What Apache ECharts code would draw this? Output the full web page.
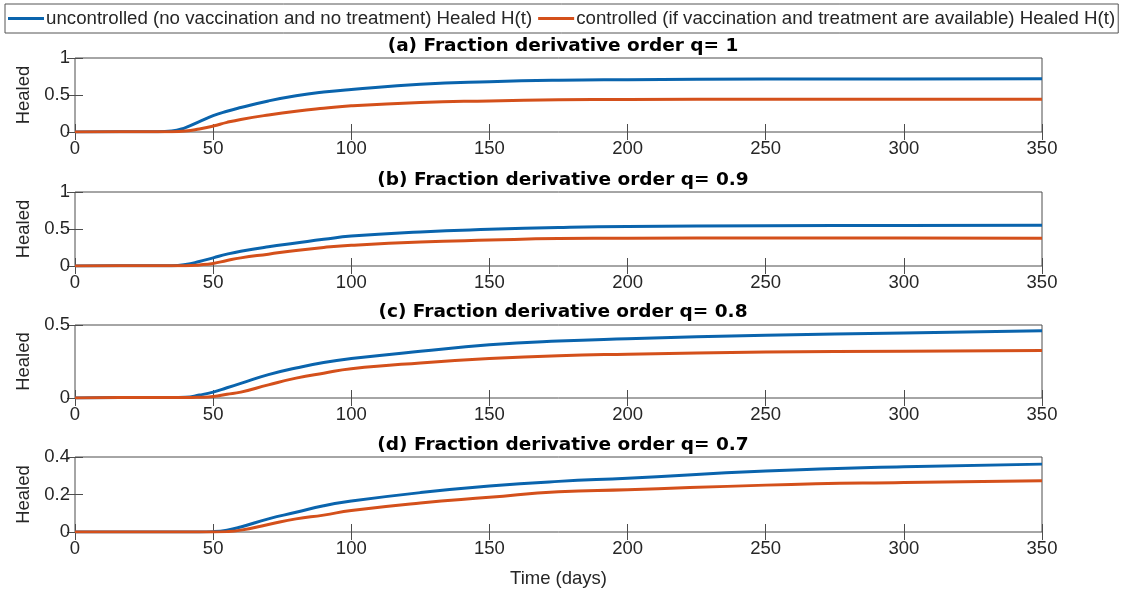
<!DOCTYPE html>
<html>
<head>
<meta charset="utf-8">
<script src="https://cdn.jsdelivr.net/npm/echarts@6/dist/echarts.min.js"></script>
<style>
  html, body { margin: 0; padding: 0; background: #fff; }
  #chart { width: 1128px; height: 591px; }
</style>
</head>
<body>
<div id="chart"></div>
<script>
// Sample days shared by all panels
const days = [0, 16, 30, 35, 40, 45, 50, 55, 60, 70, 80, 90, 100, 125, 150, 175, 200, 250, 300, 350];

// (a) q = 1
const uncontrolledA = [0, 0.005, 0.005, 0.012, 0.06, 0.14, 0.22, 0.28, 0.33, 0.42, 0.49, 0.54, 0.575, 0.645, 0.68, 0.70, 0.707, 0.715, 0.717, 0.72];
const controlledA   = [0, 0.005, 0.005, 0.005, 0.012, 0.04, 0.08, 0.13, 0.17, 0.23, 0.28, 0.32, 0.355, 0.40, 0.42, 0.435, 0.44, 0.442, 0.443, 0.443];
// (b) q = 0.9
const uncontrolledB = [0, 0.005, 0.005, 0.005, 0.02, 0.06, 0.11, 0.16, 0.20, 0.26, 0.31, 0.36, 0.405, 0.46, 0.495, 0.52, 0.535, 0.545, 0.548, 0.55];
const controlledB   = [0, 0.005, 0.005, 0.005, 0.005, 0.015, 0.035, 0.075, 0.11, 0.16, 0.21, 0.25, 0.28, 0.325, 0.35, 0.37, 0.375, 0.38, 0.378, 0.375];
// (c) q = 0.8
const uncontrolledC = [0, 0.003, 0.003, 0.003, 0.005, 0.02, 0.04, 0.07, 0.10, 0.16, 0.205, 0.243, 0.27, 0.32, 0.364, 0.39, 0.405, 0.43, 0.445, 0.46];
const controlledC   = [0, 0.003, 0.003, 0.003, 0.003, 0.005, 0.01, 0.025, 0.04, 0.09, 0.136, 0.17, 0.20, 0.24, 0.27, 0.29, 0.30, 0.315, 0.32, 0.325];
// (d) q = 0.7
const uncontrolledD = [0, 0, 0, 0, 0, 0, 0.002, 0.01, 0.027, 0.07, 0.105, 0.14, 0.165, 0.21, 0.245, 0.27, 0.287, 0.325, 0.348, 0.362];
const controlledD   = [0, 0, 0, 0, 0, 0, 0, 0.002, 0.01, 0.04, 0.07, 0.09, 0.115, 0.155, 0.185, 0.215, 0.225, 0.25, 0.264, 0.273];

const panelTitles = [
  '(a) Fraction derivative order q= 1',
  '(b) Fraction derivative order q= 0.9',
  '(c) Fraction derivative order q= 0.8',
  '(d) Fraction derivative order q= 0.7'
];
const yMax = [1, 1, 0.5, 0.4];
const yStep = [0.5, 0.5, 0.5, 0.2];
const seriesNames = [
  'uncontrolled (no vaccination and no treatment) Healed H(t)',
  'controlled (if vaccination and treatment are available) Healed H(t)'
];
const panelData = [
  [uncontrolledA, controlledA],
  [uncontrolledB, controlledB],
  [uncontrolledC, controlledC],
  [uncontrolledD, controlledD]
];

const FONT = '"Liberation Sans", Arial, sans-serif';
const TITLE_FONT = '"DejaVu Sans", "Liberation Sans", sans-serif';
const INK = '#262626';
const BOX = '#4d4d4d';
const COLORS = ['#0a64ad', '#d4501b'];

const gridTops = [58, 192, 325, 457];
const gridHeights = [74, 74, 73, 75];
const titleTops = [32, 166, 298, 431];

const grids = [], xAxes = [], yAxes = [], series = [], titles = [];

panelData.forEach((pair, i) => {
  grids.push({ left: 75, right: 86, top: gridTops[i], height: gridHeights[i], show: true, borderColor: BOX, borderWidth: 1, backgroundColor: '#fff' });
  const xBase = { type: 'value', gridIndex: i, min: 0, max: 350, interval: 50,
    axisLine: { show: false }, splitLine: { show: false },
    axisTick: { show: true, inside: true, length: 8, lineStyle: { color: BOX } } };
  xAxes.push(Object.assign({}, xBase, { position: 'bottom',
    axisLabel: { show: true, color: INK, fontFamily: FONT, fontSize: 18.5, margin: 7 },
    name: i === 3 ? 'Time (days)' : '', nameLocation: 'middle', nameGap: 37,
    nameTextStyle: { color: INK, fontFamily: FONT, fontSize: 18.5 } }));
  xAxes.push(Object.assign({}, xBase, { position: 'top', axisLabel: { show: false } }));
  const yBase = { type: 'value', gridIndex: i, min: 0, max: yMax[i], interval: yStep[i],
    axisLine: { show: false }, splitLine: { show: false },
    axisTick: { show: true, inside: true, length: 8, lineStyle: { color: BOX } } };
  yAxes.push(Object.assign({}, yBase, { position: 'left',
    axisLabel: { show: true, color: INK, fontFamily: FONT, fontSize: 18.5, margin: 5 },
    name: 'Healed', nameLocation: 'middle', nameGap: 33, nameRotate: 90,
    nameTextStyle: { color: INK, fontFamily: FONT, fontSize: 18.5 } }));
  yAxes.push(Object.assign({}, yBase, { position: 'right', axisLabel: { show: false } }));

  pair.forEach((vals, k) => {
    series.push({
      name: seriesNames[k], type: 'line',
      xAxisIndex: i * 2, yAxisIndex: i * 2,
      data: days.map((d, j) => [d, vals[j]]),
      showSymbol: false, symbol: 'none',
      smooth: 0.5,
      lineStyle: { color: COLORS[k], width: 3 },
      itemStyle: { color: COLORS[k] },
      z: 3 + k
    });
  });

  titles.push({ text: panelTitles[i], left: 558, top: titleTops[i], textAlign: 'center',
    textStyle: { fontFamily: TITLE_FONT, fontSize: 18.5, fontWeight: 'bold', color: '#000' } });
});

const chart = echarts.init(document.getElementById('chart'), null, { renderer: 'canvas' });
chart.setOption({
  animation: false,
  backgroundColor: '#fff',
  title: titles,
  legend: {
    data: seriesNames,
    left: 5, top: 4, width: 1116,
    orient: 'horizontal',
    icon: 'rect', itemWidth: 36, itemHeight: 3, itemGap: 6,
    padding: [5, 3, 5, 3],
    borderColor: '#555', borderWidth: 1, backgroundColor: '#fff',
    selectedMode: false,
    textStyle: { fontFamily: FONT, fontSize: 18.7, color: INK, padding: [0, 0, 0, -3] }
  },
  grid: grids,
  xAxis: xAxes,
  yAxis: yAxes,
  series: series
});
</script>
</body>
</html>
